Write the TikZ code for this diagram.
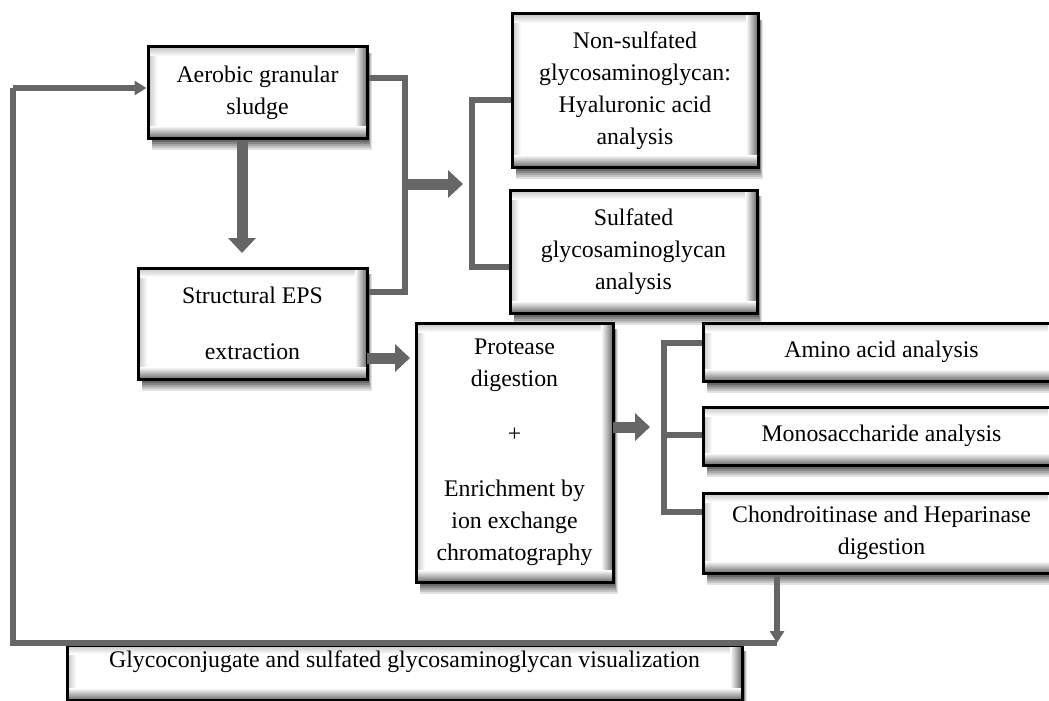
\documentclass[tikz,border=0pt]{standalone}
\usepackage{fontspec}
\setmainfont{Liberation Serif}
\usetikzlibrary{arrows.meta}
\definecolor{conncol}{RGB}{102,102,102}
\definecolor{bevel}{RGB}{105,105,105}
\definecolor{bevellight}{RGB}{195,195,195}
\definecolor{shA}{RGB}{225,225,225}
\definecolor{shB}{RGB}{195,195,195}
\definecolor{shC}{RGB}{165,165,165}
\definecolor{shD}{RGB}{135,135,135}
\definecolor{shE}{RGB}{105,105,105}
\tikzset{
  boxframe/.style={draw=black, line width=3pt, inner sep=0pt, align=center,
    font=\fontsize{23.8}{32}\selectfont},
  conn/.style={draw=conncol, line width=5.5pt, line join=miter},
  thinarrow/.style={conn, -{Triangle[width=14pt,length=12pt]}},
  fatarrow/.style={draw=conncol, line width=11pt, -{Triangle[width=27pt,length=15pt]}}
}
% \mybox{name}{x1}{y1}{x2}{y2}{extra node options}{text}
\newcommand{\mybox}[7]{%
  \path[fill=shA] (#2+4,#3+6) rectangle (#4+5,#5+12);
  \path[fill=shB] (#2+4,#3+6) rectangle (#4+4,#5+10);
  \path[fill=shC] (#2+4,#3+6) rectangle (#4+3,#5+8);
  \path[fill=shD] (#2+4,#3+6) rectangle (#4+2.5,#5+6);
  \path[fill=shE] (#2+4,#3+6) rectangle (#4+2,#5+4);
  \path[fill=white] (#2,#3) rectangle (#4,#5);
  \shade[left color=bevellight, right color=white] (#2,#3) rectangle (#2+9,#5);
  \shade[top color=bevellight, bottom color=white] (#2,#3) rectangle (#4,#3+9);
  \shade[left color=white, right color=bevel] (#4-12,#3) rectangle (#4,#5);
  \shade[top color=white, bottom color=bevel] (#2,#5-12) rectangle (#4,#5);
  \pgfmathsetmacro{\bw}{#4-#2}%
  \pgfmathsetmacro{\bh}{#5-#3}%
  \node[boxframe, minimum width=\bw pt, minimum height=\bh pt, #6] (#1) at ({(#2+#4)/2},{(#3+#5)/2}) {#7};
}
\begin{document}
\begin{tikzpicture}[x=1pt,y=-1pt]
\useasboundingbox (0,0) rectangle (1049,701);
\clip (0,0) rectangle (1049,701);

% boxes
\mybox{ags}{148}{47}{367}{138}{}{Aerobic granular\\sludge}
\mybox{eps}{138}{268}{367}{379}{}{Structural EPS\\[24pt]extraction}
\mybox{nsg}{512}{14}{758}{167}{}{Non-sulfated\\glycosaminoglycan:\\Hyaluronic acid\\analysis}
\mybox{sg}{510}{190}{757}{313}{}{Sulfated\\glycosaminoglycan\\analysis}
\mybox{prot}{416}{323}{613}{582}{}{Protease\\digestion\\[23pt]+\\[23pt]Enrichment by\\ion exchange\\chromatography}
\mybox{amino}{703}{323}{1060}{381}{}{Amino acid analysis}
\mybox{mono}{703}{407}{1060}{465}{}{Monosaccharide analysis}
\mybox{chond}{703}{493}{1060}{573}{}{Chondroitinase and Heparinase\\digestion}
\mybox{glyco}{67}{645}{742}{700}{text depth=26pt}{Glycoconjugate and sulfated glycosaminoglycan visualization}

% bracket coordinates
\coordinate (b1) at (405,78);
\coordinate (b2) at (405,292);
\coordinate (b3) at (405,184);
\coordinate (t3) at (463,184);
\coordinate (c1) at (472,100);
\coordinate (c2) at (472,267);
\coordinate (d1) at (664,343);
\coordinate (d2) at (664,435);
\coordinate (d3) at (664,512);
\coordinate (p1) at (613,427);
\coordinate (p2) at (650,427);
\coordinate (e1) at (367,358);
\coordinate (e2) at (410,358);
\coordinate (g1) at (777,643);
\coordinate (g2) at (13,643);
\coordinate (g3) at (13,88);
\coordinate (a1) at (242,253);

% connectors
\draw[conn] (ags.east |- b1) -- (b1) -- (b2) -- (eps.east |- b2);
\draw[fatarrow] (b3) -- (t3);
\draw[conn] (nsg.west |- c1) -- (c1) -- (c2) -- (sg.west |- c2);
\draw[fatarrow] (ags.south -| a1) -- (a1);
\draw[fatarrow] (e1) -- (e2);
\draw[fatarrow] (p1) -- (p2);
\draw[conn] (amino.west |- d1) -- (d1) -- (d3) -- (chond.west |- d3);
\draw[conn] (d2) -- (mono.west |- d2);
\draw[conn] (g1) -- (g2) -- (g3);
\draw[thinarrow] (g3) -- (ags.west |- g3);
\draw[thinarrow] (chond.south -| g1) -- (g1);
\end{tikzpicture}
\end{document}
